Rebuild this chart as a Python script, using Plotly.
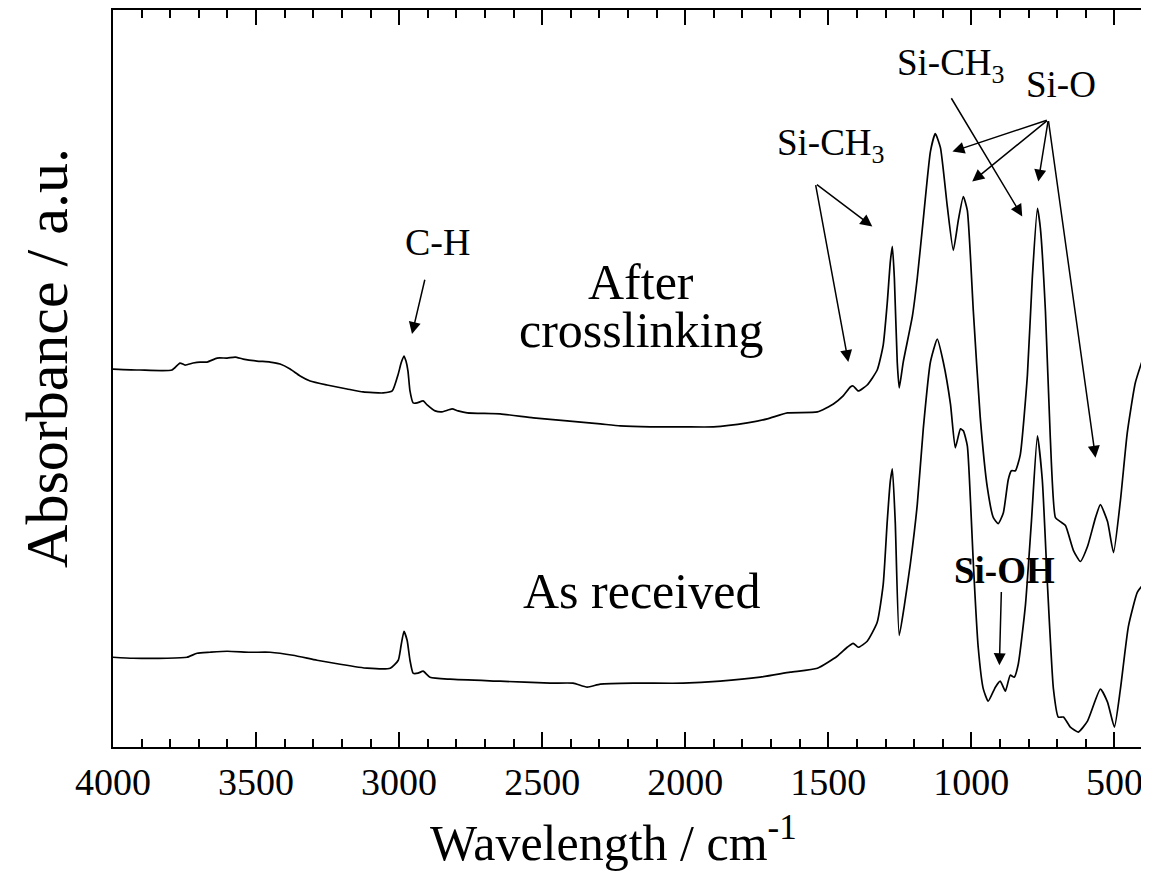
import plotly.graph_objects as go

# Wavenumber (cm-1) and absorbance (a.u.)
wn_after = [4000, 3906, 3794, 3766, 3748, 3720, 3696, 3671, 3636, 3601, 3573, 3545, 3497, 3451, 3416,
            3381, 3346, 3311, 3252, 3182, 3126, 3056, 3024, 3003, 2993, 2983, 2976, 2969, 2962, 2951,
            2937, 2916, 2902, 2874, 2850, 2815, 2794, 2762, 2647, 2531, 2413, 2297, 2227, 2122, 2007,
            1902, 1783, 1713, 1643, 1538, 1482, 1448, 1423, 1413, 1395, 1364, 1329, 1308, 1294, 1283,
            1276, 1269, 1259, 1252, 1238, 1206, 1189, 1168, 1143, 1126, 1108, 1084, 1063, 1045, 1028,
            1014, 993, 969, 944, 923, 906, 888, 871, 860, 846, 829, 804, 787, 769, 759,
            741, 724, 706, 689, 671, 643, 619, 594, 566, 549, 524, 503, 479, 455, 427, 402]
ab_after = [0.758, 0.756, 0.756, 0.770, 0.766, 0.770, 0.772, 0.772, 0.780, 0.780, 0.782, 0.778, 0.774, 0.772, 0.768,
            0.758, 0.744, 0.734, 0.726, 0.718, 0.712, 0.710, 0.714, 0.748, 0.770, 0.784, 0.774, 0.754, 0.714, 0.690,
            0.690, 0.694, 0.686, 0.674, 0.672, 0.678, 0.674, 0.670, 0.668, 0.660, 0.654, 0.648, 0.644, 0.642, 0.642,
            0.642, 0.650, 0.658, 0.670, 0.672, 0.688, 0.704, 0.722, 0.724, 0.714, 0.726, 0.756, 0.806, 0.890, 0.974,
            1.004, 0.940, 0.772, 0.720, 0.772, 0.864, 0.940, 1.058, 1.194, 1.230, 1.202, 1.084, 0.996, 1.058, 1.104,
            1.076, 0.874, 0.662, 0.520, 0.460, 0.448, 0.470, 0.536, 0.554, 0.554, 0.586, 0.746, 0.940, 1.080, 1.042,
            0.874, 0.620, 0.460, 0.452, 0.444, 0.394, 0.372, 0.402, 0.460, 0.486, 0.452, 0.390, 0.494, 0.630, 0.730, 0.776]

wn_received = [4000, 3930, 3811, 3741, 3706, 3661, 3601, 3521, 3451, 3371, 3287, 3206, 3112, 3031, 3003,
               2993, 2983, 2972, 2962, 2951, 2934, 2916, 2892, 2822, 2647, 2472, 2392, 2343, 2297, 2182,
               2007, 1878, 1738, 1633, 1538, 1469, 1434, 1413, 1395, 1364, 1329, 1308, 1294, 1283, 1276,
               1266, 1252, 1234, 1213, 1189, 1168, 1143, 1119, 1098, 1073, 1056, 1038, 1028, 1014, 1003,
               993, 976, 958, 941, 916, 899, 881, 864, 850, 836, 811, 790, 769, 752, 734,
               713, 696, 678, 654, 626, 594, 549, 524, 500, 479, 451, 420, 402]
ab_received = [0.180, 0.178, 0.178, 0.180, 0.188, 0.190, 0.192, 0.190, 0.190, 0.184, 0.174, 0.166, 0.158, 0.158, 0.174,
               0.204, 0.232, 0.214, 0.174, 0.148, 0.148, 0.152, 0.140, 0.136, 0.132, 0.128, 0.128, 0.120, 0.126, 0.128,
               0.128, 0.132, 0.140, 0.150, 0.158, 0.182, 0.200, 0.208, 0.200, 0.212, 0.250, 0.326, 0.452, 0.534, 0.558,
               0.452, 0.224, 0.284, 0.368, 0.486, 0.638, 0.772, 0.818, 0.772, 0.688, 0.600, 0.638, 0.634, 0.604, 0.494,
               0.368, 0.200, 0.116, 0.092, 0.120, 0.132, 0.112, 0.144, 0.140, 0.166, 0.284, 0.452, 0.624, 0.536, 0.326,
               0.116, 0.060, 0.060, 0.040, 0.030, 0.052, 0.116, 0.090, 0.040, 0.116, 0.242, 0.310, 0.324]

x_ticks = [4000, 3500, 3000, 2500, 2000, 1500, 1000, 500]
x_tick_labels = ["4000", "3500", "3000", "2500", "2000", "1500", "1000", "500"]

SERIF = "Liberation Serif, Times New Roman, serif"

fig = go.Figure()
fig.add_trace(go.Scatter(x=wn_after, y=ab_after, mode="lines", name="After crosslinking",
                         line=dict(color="black", width=1.7, shape="spline", smoothing=0.5),
                         showlegend=False))
fig.add_trace(go.Scatter(x=wn_received, y=ab_received, mode="lines", name="As received",
                         line=dict(color="black", width=1.7, shape="spline", smoothing=0.5),
                         showlegend=False))

# arrows: (tail_x, tail_y, head_x, head_y)
arrows = [
    (2909, 0.940, 2955, 0.828),   # C-H
    (1545, 1.130, 1346, 1.044),   # Si-CH3 (lower label)
    (1545, 1.130, 1430, 0.772),
    (1073, 1.304, 822, 1.064),    # Si-CH3 (upper label)
    (731, 1.258, 1066, 1.194),    # Si-O
    (731, 1.258, 997, 1.134),
    (731, 1.258, 766, 1.134),
    (731, 1.258, 566, 0.580),
    (895, 0.314, 902, 0.164),     # Si-OH
]
for tx, ty, hx, hy in arrows:
    fig.add_annotation(x=hx, y=hy, ax=tx, ay=ty, xref="x", yref="y", axref="x", ayref="y",
                       text="", showarrow=True, arrowhead=2, arrowsize=1.6, arrowwidth=1.5,
                       arrowcolor="black", standoff=0, startstandoff=0)

labels = [
    ("C-H", 2867, 1.012, 38),
    ("After", 2154, 0.932, 50),
    ("crosslinking", 2154, 0.836, 50),
    ("As received", 2154, 0.312, 50),
    ("Si-CH<sub>3</sub>", 1490, 1.206, 37),
    ("Si-CH<sub>3</sub>", 1070, 1.366, 37),
    ("Si-O", 685, 1.328, 37),
    ("<b>Si-OH</b>", 885, 0.354, 37),
]
for txt, lx, ly, size in labels:
    fig.add_annotation(x=lx, y=ly, xref="x", yref="y", text=txt, showarrow=False,
                       font=dict(family=SERIF, size=size, color="black"),
                       xanchor="center", yanchor="middle")

# axis titles
fig.add_annotation(x=0.486, y=-0.126, xref="paper", yref="paper", yanchor="middle", xanchor="center",
                   text="Wavelength / cm<sup>-1</sup>", showarrow=False,
                   font=dict(family=SERIF, size=50, color="black"))
fig.add_annotation(x=-0.064, y=0.528, xref="paper", yref="paper", xanchor="center", yanchor="middle",
                   text="Absorbance / a.u.", textangle=-90, showarrow=False,
                   font=dict(family=SERIF, size=60, color="black"))

fig.update_xaxes(range=[4000, 400], tickvals=x_ticks, ticktext=x_tick_labels,
                 ticks="inside", ticklen=15, tickwidth=2, tickcolor="black",
                 minor=dict(dtick=100, ticks="inside", ticklen=8, tickwidth=2, tickcolor="black"),
                 showline=True, linewidth=2, linecolor="black", mirror="allticks",
                 showgrid=False, zeroline=False,
                 tickfont=dict(family=SERIF, size=38, color="black"))
fig.update_yaxes(range=[0, 1.478], showticklabels=False, ticks="",
                 showline=True, linewidth=2, linecolor="black", mirror=True,
                 showgrid=False, zeroline=False)

fig.update_layout(width=1141, height=866, paper_bgcolor="white", plot_bgcolor="white",
                  margin=dict(l=105, r=6, t=0, b=127), showlegend=False)

fig.write_html("out.html")
